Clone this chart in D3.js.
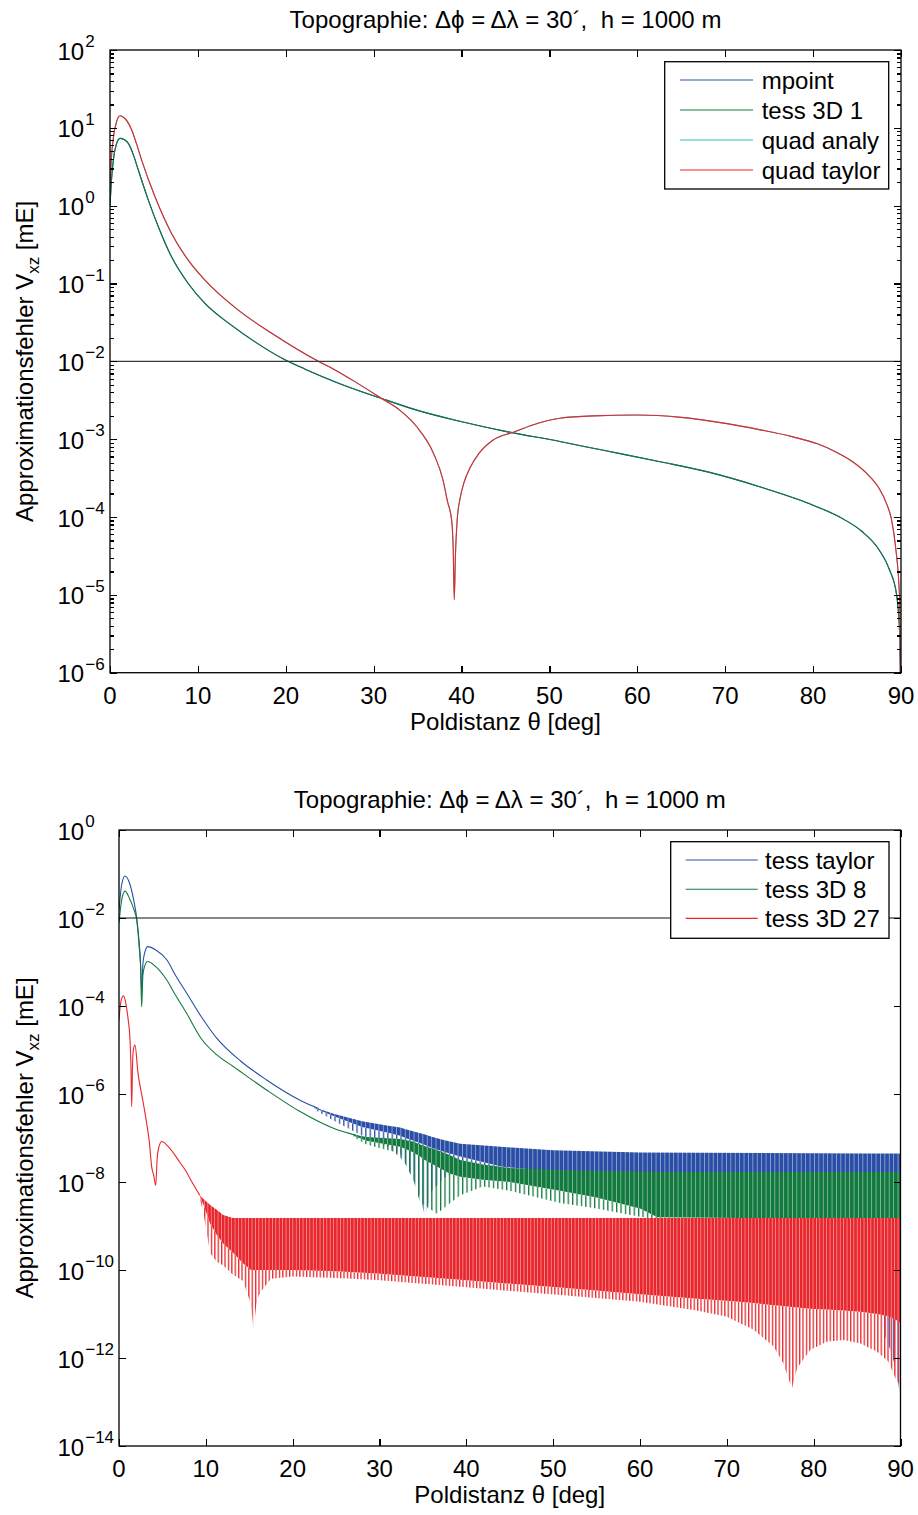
<!DOCTYPE html>
<html lang="de">
<head>
<meta charset="utf-8">
<title>Approximationsfehler Vxz</title>
<script src="https://cdnjs.cloudflare.com/ajax/libs/d3/7.8.5/d3.min.js"></script>
<style>
body { margin: 0; background: #fff; }
svg text { font-family: "Liberation Sans", Arial, Helvetica, sans-serif; fill: #000; }
.axis line { stroke: #000; stroke-width: 1.2; shape-rendering: crispEdges; }
.axis path { display: none; }
</style>
</head>
<body>
<script>
// ---------- data: theta [deg], error given as log10 of value in mE ----------
var titleText = "Topographie: \u0394\u03d5 = \u0394\u03bb = 30\u00b4,\u00a0 h = 1000 m";
var xLabelText = "Poldistanz \u03b8 [deg]";
var xTicks = [0, 10, 20, 30, 40, 50, 60, 70, 80, 90];
var refLevel = 1e-2;

// top panel
var topNames = ["mpoint", "tess 3D 1", "quad analy", "quad taylor"];
var topColors = ["#2a4ea6", "#127a3e", "#31c4c4", "#e8262b"];
var topExp = [-6, -5, -4, -3, -2, -1, 0, 1, 2];

// mpoint and tess 3D 1 lie on top of each other
var pointTheta = [0, 0.15, 0.38, 0.7, 1.14, 1.6, 2.09, 2.7, 3.22, 4.36, 5.5, 7.0, 8.9, 10.8, 13.8, 16.5, 19.9, 22.2, 26, 30.9, 35, 39.8, 45, 51.2, 56, 62.6, 68, 73.9, 79.6, 83.5, 85.5, 87.5, 88.7, 89.5, 89.85, 90];
var pointLog = [0.0, 0.3, 0.586, 0.78, 0.865, 0.85, 0.8, 0.64, 0.458, 0.072, -0.27, -0.657, -1.0, -1.256, -1.535, -1.75, -1.98, -2.1, -2.28, -2.477, -2.63, -2.77, -2.9, -3.03, -3.14, -3.29, -3.42, -3.61, -3.83, -4.03, -4.18, -4.42, -4.68, -5.0, -5.5, -6.5];

// quad analy and quad taylor lie on top of each other
var quadTheta = [0, 0.15, 0.4, 0.75, 1.14, 1.7, 2.47, 3.0, 3.6, 5.12, 7.0, 8.9, 10.8, 14.6, 18.4, 23.7, 25.6, 28, 30.9, 33, 34.9, 36.8, 37.9, 38.4, 38.87, 39.05, 39.17, 39.3, 39.5, 39.8, 40.3, 41, 42, 43.6, 45.9, 48, 51.2, 55, 60, 65, 70.2, 74, 77.7, 80.5, 82.7, 84.5, 86.1, 87.5, 88.4, 88.9, 89.4, 89.85, 90];
var quadLog = [0.24, 0.6, 0.886, 1.08, 1.156, 1.12, 0.972, 0.8, 0.586, 0.114, -0.356, -0.70, -0.956, -1.342, -1.64, -2.0, -2.11, -2.27, -2.477, -2.63, -2.84, -3.18, -3.53, -3.8, -4.04, -4.4, -5.06, -4.5, -4.04, -3.78, -3.55, -3.36, -3.18, -3.01, -2.91, -2.82, -2.73, -2.7, -2.69, -2.72, -2.80, -2.88, -2.97, -3.06, -3.17, -3.29, -3.44, -3.63, -3.84, -4.02, -4.4, -5.07, -7];

// bottom panel
var bottomNames = ["tess taylor", "tess 3D 8", "tess 3D 27"];
var bottomColors = ["#2a4ea6", "#127a3e", "#e8262b"];
var bottomExp = [-14, -12, -10, -8, -6, -4, -2, 0];

// smooth parts before the oscillations start
var taylorTheta = [0, 0.3, 0.69, 1.2, 1.7, 2.04, 2.3, 2.5, 2.61, 2.75, 2.95, 3.3, 4.2, 5.5, 6.5, 7.8, 9.5, 11.25, 14, 17, 20.85, 23];
var taylorLog = [-1.82, -1.25, -1.045, -1.2, -1.6, -2.0, -2.5, -3.1, -3.7, -3.05, -2.8, -2.65, -2.72, -2.95, -3.3, -3.71, -4.25, -4.73, -5.25, -5.68, -6.14, -6.33];
var tess8Theta = [0, 0.3, 0.69, 1.2, 1.7, 2.04, 2.3, 2.5, 2.61, 2.75, 2.95, 3.3, 4.2, 5.5, 6.5, 7.8, 9.5, 11.2, 13.2, 17, 20.85, 24.7, 27.5];
var tess8Log = [-2.12, -1.6, -1.39, -1.55, -1.8, -2.05, -2.6, -3.2, -4.02, -3.3, -3.1, -2.99, -3.1, -3.41, -3.75, -4.17, -4.75, -5.1, -5.38, -5.91, -6.40, -6.78, -6.95];
var tess27Theta = [0, 0.2, 0.5, 0.8, 1.05, 1.27, 1.38, 1.46, 1.55, 1.65, 1.84, 2.19, 2.7, 3.19, 3.5, 3.76, 4.0, 4.23, 4.4, 4.6, 4.92, 5.7, 7.0, 7.7, 8.4, 9.3];
var tess27Log = [-4.32, -3.92, -3.77, -3.95, -4.3, -4.77, -5.4, -6.29, -5.4, -5.0, -4.89, -5.53, -6.1, -6.67, -7.1, -7.65, -7.85, -8.08, -7.45, -7.2, -7.08, -7.2, -7.55, -7.75, -8.0, -8.3];

// oscillating parts: upper envelope, lower edge of the dense band, lower tips
var taylorBandTheta = [22.5, 24.7, 28, 31, 32.4, 33, 34.5, 35.25, 36, 37.5, 39.3, 44, 50, 60, 86, 87, 88.2, 88.8, 89.4, 89.9, 90];
var taylorBandTop = [-6.3, -6.45, -6.62, -6.72, -6.76, -6.8, -6.88, -6.92, -6.97, -7.05, -7.13, -7.2, -7.28, -7.33, -7.35, -7.35, -7.35, -7.35, -7.35, -7.35, -7.35];
var taylorBandCore = [-6.32, -6.5, -6.75, -6.88, -6.95, -7.0, -7.1, -7.16, -7.22, -7.32, -7.42, -7.65, -7.76, -7.8, -7.8, -7.8, -7.8, -7.8, -7.8, -7.8, -7.8];
var taylorBandTip = [-6.35, -6.6, -6.95, -7.2, -7.45, -7.6, -8.2, -8.79, -8.2, -7.9, -7.7, -7.8, -7.8, -7.8, -7.8, -9.0, -11.5, -11.8, -12.2, -12.77, -12.8];

var tess8BandTheta = [27, 28.5, 32.4, 33.8, 34.7, 35, 36.6, 38, 39.3, 41.9, 45, 50.8, 55, 60, 62, 90];
var tess8BandTop = [-6.92, -6.98, -7.02, -7.08, -7.15, -7.17, -7.27, -7.38, -7.5, -7.6, -7.68, -7.73, -7.75, -7.76, -7.77, -7.77];
var tess8BandCore = [-6.95, -7.06, -7.2, -7.32, -7.42, -7.48, -7.65, -7.8, -7.88, -7.95, -8.0, -8.2, -8.35, -8.6, -8.8, -8.85];
var tess8BandTip = [-6.98, -7.15, -7.35, -7.9, -8.48, -8.5, -8.72, -8.5, -8.3, -8.1, -8.2, -8.48, -8.6, -8.79, -8.85, -8.9];

var tess27BandTheta = [9.3, 9.7, 10.5, 11.25, 12, 13.1, 14.3, 14.9, 15.2, 15.5, 15.8, 16.1, 16.5, 17.5, 20, 25, 29.7, 39.3, 50.8, 60, 66.2, 70, 73.1, 75.4, 76.5, 77.5, 78.1, 79.6, 81.5, 83.4, 85.4, 87.3, 88.6, 89.6, 90];
var tess27BandTop = [-8.3, -8.38, -8.52, -8.63, -8.75, -8.82, -8.82, -8.82, -8.82, -8.82, -8.82, -8.82, -8.82, -8.82, -8.82, -8.82, -8.82, -8.82, -8.82, -8.82, -8.82, -8.82, -8.82, -8.82, -8.82, -8.82, -8.82, -8.82, -8.82, -8.82, -8.82, -8.82, -8.82, -8.82, -8.82];
var tess27BandCore = [-8.32, -8.5, -8.95, -9.2, -9.4, -9.6, -9.85, -9.95, -10.0, -10.0, -10.0, -10.0, -10.0, -10.0, -10.0, -10.03, -10.08, -10.22, -10.4, -10.55, -10.65, -10.7, -10.75, -10.8, -10.82, -10.84, -10.85, -10.88, -10.9, -10.92, -10.95, -11.0, -11.05, -11.15, -11.2];
var tess27BandTip = [-8.4, -8.67, -9.62, -9.81, -9.9, -10.1, -10.25, -10.6, -10.8, -11.35, -10.8, -10.58, -10.45, -10.2, -10.15, -10.18, -10.23, -10.38, -10.57, -10.72, -10.91, -11.06, -11.36, -11.74, -12.12, -12.69, -12.23, -11.82, -11.63, -11.59, -11.67, -11.86, -12.08, -12.54, -12.6];

// ---------- drawing ----------
var w = 918, h = 1515;
var fs = 24;
var svg = d3.select("body").append("svg").attr("width", w).attr("height", h);
var defs = svg.append("defs");

function pts(th, lg) {
  return th.map(function(t, i) { return [t, Math.pow(10, lg[i])]; });
}

function makePanel(p) {
  var x = d3.scaleLinear().domain([0, 90]).range([p.left, p.right]);
  var y = d3.scaleLog().domain([Math.pow(10, p.exp[0]), Math.pow(10, p.exp[p.exp.length - 1])]).range([p.bottom, p.top]);
  defs.append("clipPath").attr("id", p.id + "-clip").append("rect")
    .attr("x", p.left).attr("y", p.top).attr("width", p.right - p.left).attr("height", p.bottom - p.top);
  var plot = svg.append("g").attr("clip-path", "url(#" + p.id + "-clip)");
  return { p: p, x: x, y: y, plot: plot };
}

function addLine(P, th, lg, color) {
  var line = d3.line().x(function(d) { return P.x(d[0]); }).y(function(d) { return P.y(d[1]); })
    .curve(d3.curveMonotoneX);
  P.plot.append("path").datum(pts(th, lg)).attr("d", line)
    .attr("fill", "none").attr("stroke", color).attr("stroke-width", 1.1);
}

function makePatterns(id, color, period) {
  var core = defs.append("pattern").attr("id", id + "-core").attr("patternUnits", "userSpaceOnUse")
    .attr("width", period).attr("height", 8);
  core.append("rect").attr("width", period).attr("height", 8).attr("fill", color);
  core.append("rect").attr("width", 0.7).attr("height", 8).attr("fill", "#fff").attr("opacity", 0.6);
  var tip = defs.append("pattern").attr("id", id + "-tip").attr("patternUnits", "userSpaceOnUse")
    .attr("width", period).attr("height", 8);
  tip.append("rect").attr("width", 1.3).attr("height", 8).attr("fill", color);
}

function addBand(P, id, th, top, core, tip) {
  var data = th.map(function(t, i) { return { t: t, a: top[i], b: core[i], c: tip[i] }; });
  var tipArea = d3.area().x(function(d) { return P.x(d.t); })
    .y0(function(d) { return P.y(Math.pow(10, d.b)); }).y1(function(d) { return P.y(Math.pow(10, d.c)); });
  var coreArea = d3.area().x(function(d) { return P.x(d.t); })
    .y0(function(d) { return P.y(Math.pow(10, d.a)); }).y1(function(d) { return P.y(Math.pow(10, d.b)); });
  P.plot.append("path").datum(data).attr("d", tipArea).attr("fill", "url(#" + id + "-tip)");
  P.plot.append("path").datum(data).attr("d", coreArea).attr("fill", "url(#" + id + "-core)");
}

function addRefLine(P, color, width) {
  P.plot.append("line")
    .attr("x1", P.x(0)).attr("x2", P.x(90))
    .attr("y1", P.y(refLevel)).attr("y2", P.y(refLevel))
    .attr("stroke", color).attr("stroke-width", width);
}

function finishPanel(P, minorTicks, tickExp) {
  var p = P.p, x = P.x, y = P.y;
  var axes = svg.append("g");
  var major = tickExp.map(function(e) { return Math.pow(10, e); });

  axes.append("g").attr("class", "axis").attr("transform", "translate(" + p.left + ",0)")
    .call(d3.axisLeft(y).tickValues(major).tickSize(-7).tickFormat(""));
  axes.append("g").attr("class", "axis").attr("transform", "translate(" + p.right + ",0)")
    .call(d3.axisRight(y).tickValues(major).tickSize(-7).tickFormat(""));
  if (minorTicks) {
    var minor = [];
    for (var e = p.exp[0]; e < p.exp[p.exp.length - 1]; e++) {
      for (var k = 2; k <= 9; k++) minor.push(k * Math.pow(10, e));
    }
    axes.append("g").attr("class", "axis").attr("transform", "translate(" + p.left + ",0)")
      .call(d3.axisLeft(y).tickValues(minor).tickSize(-4).tickFormat(""));
    axes.append("g").attr("class", "axis").attr("transform", "translate(" + p.right + ",0)")
      .call(d3.axisRight(y).tickValues(minor).tickSize(-4).tickFormat(""));
  }
  axes.append("g").attr("class", "axis").attr("transform", "translate(0," + p.bottom + ")")
    .call(d3.axisBottom(x).tickValues(xTicks).tickSize(-7).tickFormat(""));
  axes.append("g").attr("class", "axis").attr("transform", "translate(0," + p.top + ")")
    .call(d3.axisTop(x).tickValues(xTicks).tickSize(-7).tickFormat(""));

  axes.append("rect").attr("x", p.left).attr("y", p.top)
    .attr("width", p.right - p.left).attr("height", p.bottom - p.top)
    .attr("fill", "none").attr("stroke", "#000").attr("stroke-width", 1.3);

  // y tick labels 10^e
  tickExp.forEach(function(e) {
    var t = axes.append("text").attr("x", 57.5).attr("y", y(Math.pow(10, e)) + 9.5)
      .attr("font-size", fs);
    t.append("tspan").text("10");
    t.append("tspan").attr("dy", -12.5).attr("dx", 1).attr("font-size", 17)
      .text(e < 0 ? "\u2212" + (-e) : String(e));
  });

  // x tick labels
  axes.selectAll(null).data(xTicks).enter().append("text")
    .attr("x", function(d) { return x(d); }).attr("y", p.bottom + 31)
    .attr("text-anchor", "middle").attr("font-size", fs).text(function(d) { return d; });

  var cx = (p.left + p.right) / 2;
  axes.append("text").attr("x", cx).attr("y", p.bottom + 57).attr("text-anchor", "middle")
    .attr("font-size", fs).text(xLabelText);
  axes.append("text").attr("x", cx).attr("y", p.top - 22).attr("text-anchor", "middle")
    .attr("font-size", fs).text(titleText);

  var yl = axes.append("text").attr("text-anchor", "middle").attr("font-size", fs)
    .attr("transform", "translate(33," + ((p.top + p.bottom) / 2) + ") rotate(-90)");
  yl.append("tspan").text("Approximationsfehler V");
  yl.append("tspan").attr("dy", 6).attr("font-size", 17).text("xz");
  yl.append("tspan").attr("dy", -6).text(" [mE]");
}

function addLegend(lg) {
  var g = svg.append("g");
  g.append("rect").attr("x", lg.x0).attr("y", lg.y0).attr("width", lg.x1 - lg.x0).attr("height", lg.y1 - lg.y0)
    .attr("fill", "#fff").attr("stroke", "#000").attr("stroke-width", 1.3);
  lg.names.forEach(function(n, i) {
    var yy = lg.firstRow + i * lg.step;
    g.append("line").attr("x1", lg.lx0).attr("x2", lg.lx1).attr("y1", yy).attr("y2", yy)
      .attr("stroke", lg.colors[i]).attr("stroke-width", 1.1);
    g.append("text").attr("x", lg.tx).attr("y", yy + 8.5).attr("font-size", fs).text(n);
  });
}

// ---- top panel ----
var P1 = makePanel({ id: "top", left: 110, right: 901, top: 50, bottom: 672.7, exp: topExp });
addLine(P1, pointTheta, pointLog, topColors[0]);
addLine(P1, pointTheta, pointLog, topColors[1]);
addLine(P1, quadTheta, quadLog, topColors[2]);
addLine(P1, quadTheta, quadLog, topColors[3]);
addRefLine(P1, "#3a3a3a", 1.3);
finishPanel(P1, true, topExp);
addLegend({ names: topNames, colors: topColors, x0: 664.7, x1: 888.7, y0: 61.7, y1: 189,
  firstRow: 80, step: 30, lx0: 680, lx1: 753, tx: 761.7 });

// ---- bottom panel ----
var P2 = makePanel({ id: "bot", left: 119, right: 900.5, top: 830, bottom: 1446, exp: [-14, 0] });
makePatterns("blue", bottomColors[0], 4.4);
makePatterns("green", bottomColors[1], 4.4);
makePatterns("red", bottomColors[2], 3.4);
addLine(P2, taylorTheta, taylorLog, bottomColors[0]);
addBand(P2, "blue", taylorBandTheta, taylorBandTop, taylorBandCore, taylorBandTip);
addLine(P2, tess8Theta, tess8Log, bottomColors[1]);
addBand(P2, "green", tess8BandTheta, tess8BandTop, tess8BandCore, tess8BandTip);
addLine(P2, tess27Theta, tess27Log, bottomColors[2]);
addBand(P2, "red", tess27BandTheta, tess27BandTop, tess27BandCore, tess27BandTip);
addRefLine(P2, "#111", 1.1);
finishPanel(P2, false, bottomExp);
addLegend({ names: bottomNames, colors: bottomColors, x0: 670.7, x1: 889, y0: 841.7, y1: 938.3,
  firstRow: 860, step: 29.2, lx0: 685.7, lx1: 757.7, tx: 765 });
</script>
</body>
</html>
